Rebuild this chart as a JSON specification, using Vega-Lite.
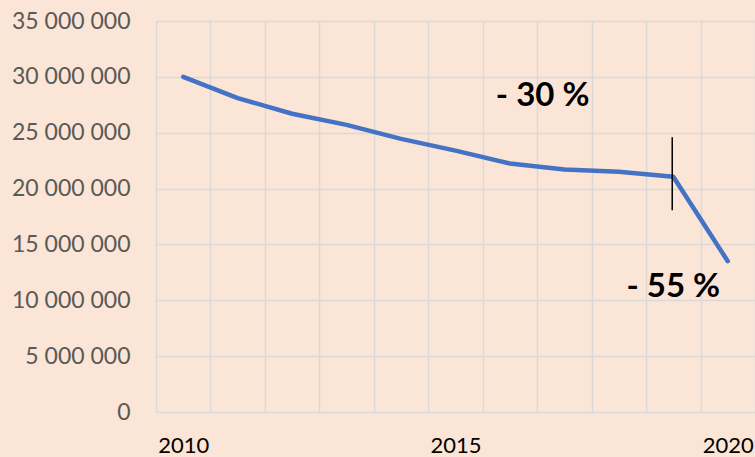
{
  "$schema": "https://vega.github.io/schema/vega-lite/v6.json",
  "autosize": "none",
  "width": 599,
  "height": 391,
  "padding": {"left": 156, "top": 21, "right": 0, "bottom": 45},
  "background": "#FBE5D6",
  "config": {
    "view": {"stroke": null},
    "axis": {"gridColor": "#D9D9D9", "gridWidth": 1.5, "domain": false, "ticks": false}
  },
  "datasets": {
    "series": [
      {"year": 2010, "value": 30000000},
      {"year": 2011, "value": 28100000},
      {"year": 2012, "value": 26700000},
      {"year": 2013, "value": 25700000},
      {"year": 2014, "value": 24450000},
      {"year": 2015, "value": 23400000},
      {"year": 2016, "value": 22250000},
      {"year": 2017, "value": 21700000},
      {"year": 2018, "value": 21500000},
      {"year": 2019, "value": 21050000},
      {"year": 2020, "value": 13500000}
    ],
    "notes": [
      {"year": 2016.6, "value": 28250000, "label": "- 30 %"},
      {"year": 2019.0, "value": 11150000, "label": "- 55 %"}
    ],
    "marker": [
      {"year": 2018.98, "top": 24600000, "bottom": 18050000}
    ]
  },
  "layer": [
    {
      "data": {"name": "series"},
      "mark": {"type": "line", "color": "#4472C4", "strokeWidth": 4.5, "strokeCap": "round", "strokeJoin": "round"},
      "encoding": {
        "x": {
          "field": "year", "type": "quantitative",
          "scale": {"domain": [2009.5, 2020.5], "nice": false, "zero": false},
          "axis": {
            "title": null,
            "values": [2009.5, 2010.5, 2011.5, 2012.5, 2013.5, 2014.5, 2015.5, 2016.5, 2017.5, 2018.5, 2019.5, 2020.5],
            "labelExpr": "(datum.value + 0.5) == 2010 || (datum.value + 0.5) == 2015 || (datum.value + 0.5) == 2020 ? '' + (datum.value + 0.5) : ''",
            "labelOffset": 27.25,
            "labelOverlap": false,
            "labelBound": false,
            "labelFlush": false,
            "labelFont": "Lato",
            "labelFontSize": 22,
            "labelColor": "#000000",
            "labelPadding": 23
          }
        },
        "y": {
          "field": "value", "type": "quantitative",
          "scale": {"domain": [0, 35000000], "nice": false},
          "axis": {
            "title": null,
            "values": [0, 5000000, 10000000, 15000000, 20000000, 25000000, 30000000, 35000000],
            "labelExpr": "replace(format(datum.value, ','), /,/g, ' ')",
            "labelFont": "Lato",
            "labelFontSize": 23,
            "labelColor": "#595959",
            "labelPadding": 26
          }
        }
      }
    },
    {
      "data": {"name": "marker"},
      "mark": {"type": "rule", "color": "#000000", "strokeWidth": 1.5},
      "encoding": {
        "x": {"field": "year", "type": "quantitative"},
        "y": {"field": "top", "type": "quantitative"},
        "y2": {"field": "bottom"}
      }
    },
    {
      "data": {"name": "notes"},
      "mark": {"type": "text", "font": "Lato", "fontWeight": "bold", "fontSize": 33, "color": "#000000", "align": "center", "baseline": "middle"},
      "encoding": {
        "x": {"field": "year", "type": "quantitative"},
        "y": {"field": "value", "type": "quantitative"},
        "text": {"field": "label"}
      }
    }
  ]
}
